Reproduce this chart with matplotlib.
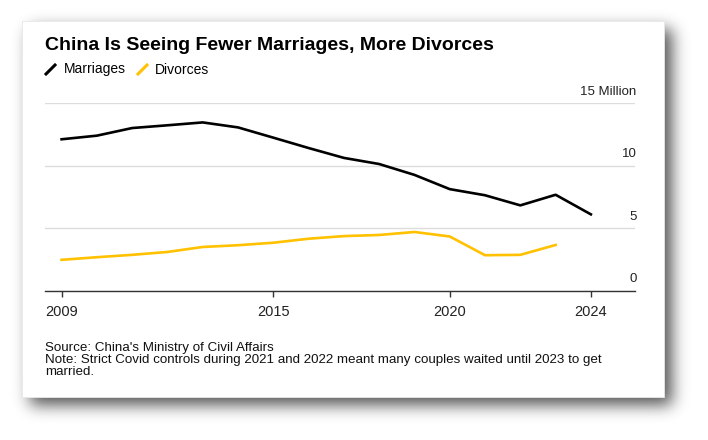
import numpy as np
import matplotlib
matplotlib.use("Agg")
import matplotlib.pyplot as plt
from matplotlib.lines import Line2D
from matplotlib.patches import Rectangle
from matplotlib.path import Path

# ---- data ----
years = [2009, 2010, 2011, 2012, 2013, 2014, 2015, 2016, 2017, 2018, 2019, 2020, 2021, 2022, 2023, 2024]
marriages = [12.12, 12.41, 13.02, 13.24, 13.47, 13.07, 12.25, 11.42, 10.63, 10.14, 9.27, 8.13, 7.64, 6.83, 7.68, 6.11]
div_years = [2009, 2010, 2011, 2012, 2013, 2014, 2015, 2016, 2017, 2018, 2019, 2020, 2021, 2022, 2023]
divorces = [2.47, 2.68, 2.87, 3.10, 3.50, 3.64, 3.84, 4.16, 4.37, 4.46, 4.70, 4.34, 2.84, 2.87, 3.66]
xtick_vals = [2009, 2015, 2020, 2024]
ytick_vals = [0, 5, 10, 15]
ytick_labels = ["0", "5", "10", "15 Million"]
series_names = ["Marriages", "Divorces"]
title = "China Is Seeing Fewer Marriages, More Divorces"
source_lines = [
    "Source: China's Ministry of Civil Affairs",
    "Note: Strict Covid controls during 2021 and 2022 meant many couples waited until 2023 to get",
    "married.",
]

plt.rcParams['font.family'] = ['Liberation Sans', 'DejaVu Sans']

W, H = 708, 440
fig = plt.figure(figsize=(W / 100, H / 100), dpi=100)
fig.patch.set_facecolor('white')

# ---- card shadow ----
cx0, cy0, cx1, cy1 = 22, 21, 664, 397
ox, oy = 8, 8
mask = np.zeros((H, W))
mask[cy0 + oy:cy1 + oy, cx0 + ox:cx1 + ox] = 1.0
sig = 8.0
k = np.arange(-30, 31)
g = np.exp(-k ** 2 / (2 * sig ** 2))
g /= g.sum()
mask = np.apply_along_axis(lambda r: np.convolve(r, g, mode='same'), 1, mask)
mask = np.apply_along_axis(lambda c: np.convolve(c, g, mode='same'), 0, mask)
rgba = np.zeros((H, W, 4))
rgba[..., 3] = mask * 0.68
fig.figimage(rgba, 0, 0, origin='upper', zorder=0)

card = Rectangle((cx0 / W, 1 - cy1 / H), (cx1 - cx0) / W, (cy1 - cy0) / H,
                 transform=fig.transFigure, facecolor='white', edgecolor='#e8e8e8',
                 linewidth=0.6, zorder=0.5)
fig.add_artist(card)

# ---- axes ----
ax_l, ax_r, ax_b, ax_t = 45, 635, 290.7, 103.3
ax = fig.add_axes([ax_l / W, 1 - ax_b / H, (ax_r - ax_l) / W, (ax_b - ax_t) / H])
ax.set_zorder(1)
ax.patch.set_alpha(0)

ax.plot(years, marriages, color='#000000', lw=1.9, solid_joinstyle='round', zorder=3)
ax.plot(div_years, divorces, color='#ffc100', lw=1.9, solid_joinstyle='round', zorder=3)

ax.set_xlim(2008.53, 2025.25)
ax.set_ylim(0, 15)
ax.set_yticks(ytick_vals)
ax.set_yticklabels([])
ax.tick_params(axis='y', length=0)
ax.grid(axis='y', color='#dcdcdc', lw=1)
ax.set_axisbelow(True)
for v, lab in zip(ytick_vals, ytick_labels):
    ax.annotate(lab, xy=(1, v), xycoords=('axes fraction', 'data'), xytext=(1, 4),
                textcoords='offset points', ha='right', va='bottom', fontsize=9.5, color='#222222')

ax.set_xticks(xtick_vals)
ax.set_xticklabels([str(x) for x in xtick_vals])
ax.tick_params(axis='x', direction='out', length=4, width=1, color='#333333',
               labelsize=10.5, labelcolor='#222222', pad=6.5)
for s in ['left', 'right', 'top']:
    ax.spines[s].set_visible(False)
ax.spines['bottom'].set_color('#333333')
ax.spines['bottom'].set_linewidth(1)

# ---- title & legend ----
fig.text(45 / W, 1 - 50 / H, title, fontsize=14, fontweight='bold', color='#000000',
         ha='left', va='baseline')

slash = Path([[-1, -1], [1, 1]])
handles = [Line2D([], [], color=c, marker=slash, linestyle='none', markersize=8, mew=2.2)
           for c in ['#000000', '#ffc100']]
leg = fig.legend(handles, series_names, loc='center left', bbox_to_anchor=(44 / W, 1 - 69.5 / H),
                 bbox_transform=fig.transFigure, ncol=2, frameon=False, fontsize=10,
                 handlelength=0.9, handletextpad=0.5, columnspacing=0.75, borderaxespad=0,
                 borderpad=0)
leg.set_zorder(2)

# ---- source / note ----
for i, line in enumerate(source_lines):
    fig.text(45 / W, 1 - (351 + i * 12.1) / H, line, fontsize=9.6, color='#111111',
             ha='left', va='baseline')

fig.savefig('out.png', dpi=100)
